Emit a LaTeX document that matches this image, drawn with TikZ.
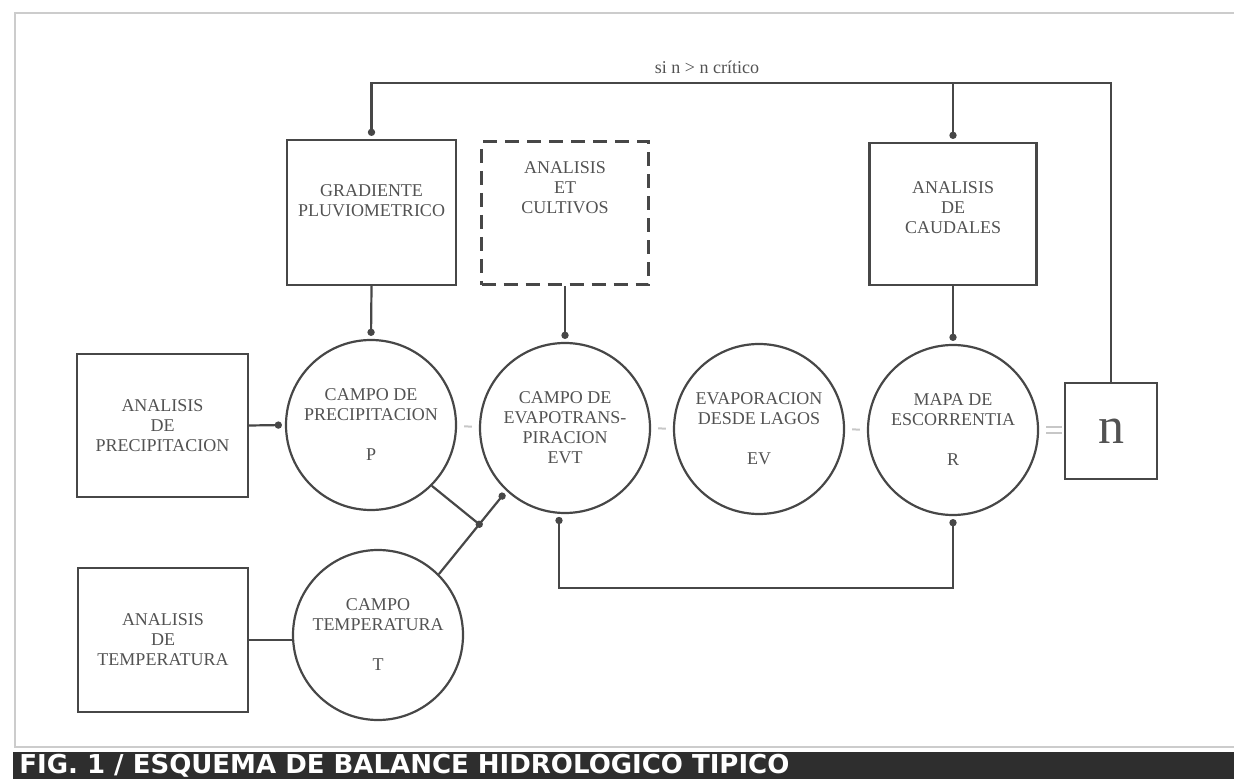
\documentclass[tikz,border=0pt]{standalone}
\usepackage{fontspec}
\setmainfont{Liberation Serif}
\newfontfamily\titlefont{DejaVu Sans}
\usepackage{tikz}
\usetikzlibrary{arrows.meta,calc}
\tikzstyle{ebox} = [draw=black!72, line width=1.1pt, rectangle, inner sep=0pt,
    text=black!68, align=center, font=\fontsize{9}{10}\selectfont]
\tikzstyle{etext} = [inner sep=0pt, text=black!68, align=center, font=\fontsize{9}{10}\selectfont]
\tikzstyle{campo} = [draw=black!72, line width=1.1pt, circle, minimum size=85pt,
    inner sep=0pt, text=black!68, align=center, font=\fontsize{9}{10}\selectfont]
\tikzstyle{enlace} = [draw=black!72, line width=1.1pt]
\tikzstyle{punto} = [enlace, -{Circle[length=3.6pt]}, shorten >=1.5pt]
\tikzstyle{puntos} = [enlace, {Circle[length=3.6pt]}-{Circle[length=3.6pt]},
    shorten >=1.5pt, shorten <=1.5pt]
\tikzstyle{tenue} = [draw=black!22, line width=1pt, shorten >=3.5pt, shorten <=3.5pt]
\tikzstyle{marco} = [draw=black!20, line width=1.2pt]

\begin{document}
\begin{tikzpicture}[x=0.5pt, y=-0.5pt]
                \useasboundingbox (0,0) rectangle (1234,779);
                \draw[marco] (1234,13) -- (15,13) -- (15,747) -- (1234,747);
                \fill[black!82] (13,752) rectangle (1234,779);
                \node[anchor=west, inner sep=0pt, text=white, font=\titlefont\bfseries\fontsize{13}{13}\selectfont]
                    (titulo) at (19,766) {FIG. 1 / ESQUEMA DE BALANCE HIDROLOGICO TIPICO};

                \node[ebox, minimum width=85.5pt, minimum height=71.5pt] (aprec) at (162.5,425.5)
                    {ANALISIS\\DE\\PRECIPITACION};
                \node[ebox, minimum width=85pt, minimum height=72pt] (atemp) at (163,640)
                    {ANALISIS\\DE\\TEMPERATURA};
                \node[ebox, minimum width=84.5pt, minimum height=72.5pt] (grad) at (371.5,212.5) {};
                \node[etext] (gradtxt) at (371.5,201) {GRADIENTE\\PLUVIOMETRICO};
                \node[ebox, dash pattern=on 7pt off 4pt, line width=1.5pt,
                    minimum width=83.5pt, minimum height=71.5pt] (etc) at (565,213.5) {};
                \node[etext] (etctxt) at (565,188) {ANALISIS\\ET\\CULTIVOS};
                \node[ebox, minimum width=83.5pt, minimum height=71pt] (caud) at (953,214) {};
                \node[etext] (caudtxt) at (953,208) {ANALISIS\\DE\\CAUDALES};
                \node[ebox, minimum width=46pt, minimum height=48pt, font=\fontsize{26}{26}\selectfont]
                    (n) at (1111,431) {n};

                \node[campo] (P) at (371,425) {CAMPO DE\\PRECIPITACION\\[10pt]P};
                \node[campo] (EVT) at (565,428) {CAMPO DE\\EVAPOTRANS-\\PIRACION\\EVT};
                \node[campo] (EV) at (759,429) {EVAPORACION\\DESDE LAGOS\\[10pt]EV};
                \node[campo] (R) at (953,430) {MAPA DE\\ESCORRENTIA\\[10pt]R};
                \node[campo] (T) at (378,635) {CAMPO\\TEMPERATURA\\[10pt]T};

                \coordinate (fbk) at (707,83);
                \coordinate (fondo) at (760,588);
                \node[etext] (cond) at (707,67) {si n > n crítico};
                \draw[punto] (n.north) |- (fbk) -| (grad.north);
                \draw[punto] (fbk -| caud.north) -- (caud.north);
                \draw[punto] (grad.south) -- (P.north);
                \draw[punto] (etc.south) -- (EVT.north);
                \draw[punto] (caud.south) -- (R.north);
                \draw[punto] (aprec.east) -- (P.west);
                \draw[enlace] (atemp.east) -- (atemp.east -| T.west);
                \draw[punto] (T.45) -- (EVT.227);
                \draw[enlace, -{Circle[length=3.6pt]}, shorten >=-1.8pt]
                    (P.-45) -- ($(T.45)!(P.-45)!(EVT.227)$);
                \draw[puntos] (EVT.-94) |- (fondo) -| (R.south);

                \draw[tenue] (P) -- (EVT);
                \draw[tenue] (EVT) -- (EV);
                \draw[tenue] (EV) -- (R);
                \draw[tenue, shorten >=1pt] ([yshift=1.7pt]R.east) -- ([yshift=1.7pt]R.east -| n.west);
                \draw[tenue, shorten >=1pt] ([yshift=-1.7pt]R.east) -- ([yshift=-1.7pt]R.east -| n.west);
            \end{tikzpicture}
\end{document}
